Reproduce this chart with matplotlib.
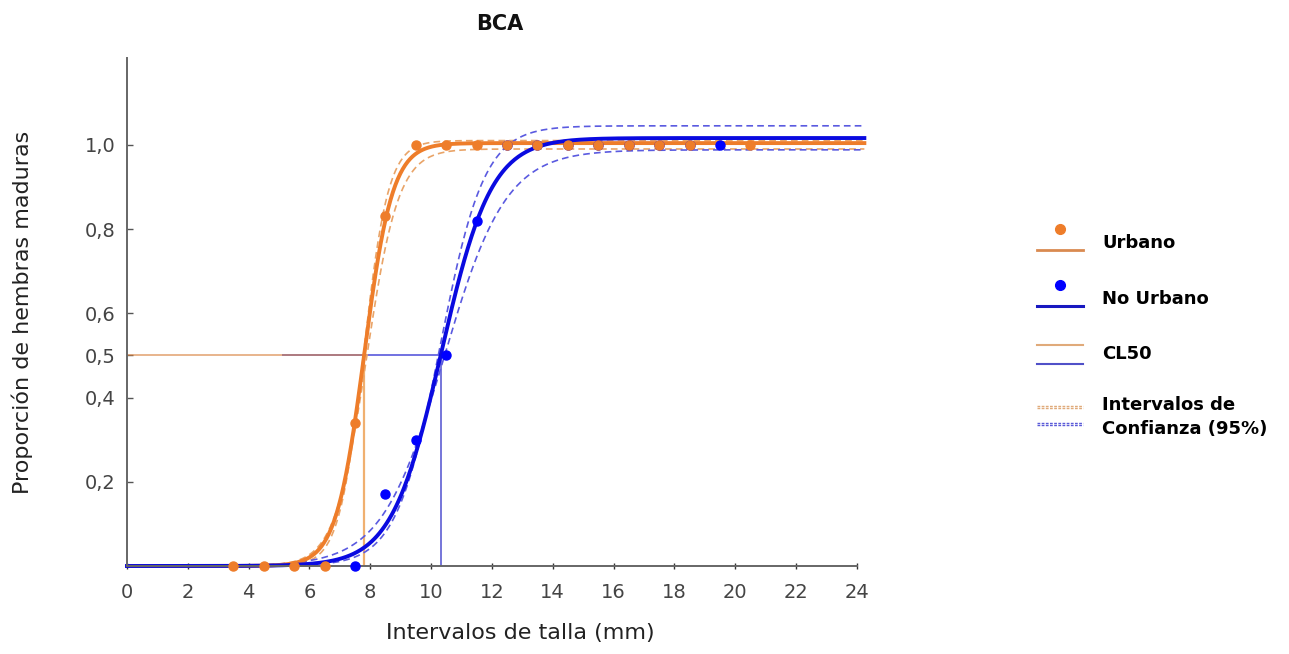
import numpy as np
import matplotlib
matplotlib.use("Agg")
import matplotlib.pyplot as plt
from matplotlib.legend_handler import HandlerBase
from matplotlib.lines import Line2D

# observed proportion of mature females per size class (mm)
urb_x = [3.5, 4.5, 5.5, 6.5, 7.5, 8.5, 9.5, 10.5, 11.5, 12.5, 13.5, 14.5, 15.5, 16.5, 17.5, 18.5, 20.5]
urb_p = [0.0, 0.0, 0.0, 0.0, 0.34, 0.83, 1.0, 1.0, 1.0, 1.0, 1.0, 1.0, 1.0, 1.0, 1.0, 1.0, 1.0]
nourb_x = [7.5, 8.5, 9.5, 10.5, 11.5, 12.5, 13.5, 14.5, 15.5, 16.5, 17.5, 18.5, 19.5]
nourb_p = [0.0, 0.17, 0.30, 0.50, 0.82, 1.0, 1.0, 1.0, 1.0, 1.0, 1.0, 1.0, 1.0]

# logistic fits: (asymptote, slope, CL50)
urb_fit = (1.004, 2.15, 7.80)
urb_ci_hi = (1.010, 2.45, 7.78)
urb_ci_lo = (0.990, 1.90, 7.88)
nourb_fit = (1.016, 1.22, 10.34)
nourb_ci_hi = (1.045, 1.38, 10.30)
nourb_ci_lo = (0.988, 0.98, 10.42)
nourb_cl50_start = 5.1

x_ticks = list(range(0, 25, 2))
y_ticks = [0.2, 0.4, 0.5, 0.6, 0.8, 1.0]
y_labels = ["0,2", "0,4", "0,5", "0,6", "0,8", "1,0"]

ORANGE = "#ee7d2a"
BLUE = "#0a0ae0"


def logistic(x, params):
    a, k, x50 = params
    return a / (1 + np.exp(-k * (x - x50)))


class Glyph:
    def __init__(self, parts):
        self.parts = parts


class GlyphHandler(HandlerBase):
    def create_artists(self, legend, orig_handle, xdescent, ydescent, width, height, fontsize, trans):
        arts = []
        x0, x1 = -xdescent, -xdescent + width
        for kind, color, yf, lw, ls in orig_handle.parts:
            y = -ydescent + yf * height
            if kind == "dot":
                a = Line2D([(x0 + x1) / 2], [y], marker="o", ms=7, color=color, ls="none")
            else:
                a = Line2D([x0, x1], [y, y], color=color, lw=lw, ls=ls)
            a.set_transform(trans)
            arts.append(a)
        return arts


plt.rcParams["font.family"] = ["DejaVu Sans"]

fig = plt.figure(figsize=(12.89, 6.54), dpi=100)
ax = fig.add_axes([127 / 1289, 88 / 654, 748 / 1289, 508 / 654])

xs = np.linspace(0, 24.25, 600)

# CL50 reference lines
ax.hlines(0.5, nourb_cl50_start, nourb_fit[2], color="#4a4ad8", lw=1.1)
ax.vlines(nourb_fit[2], 0, 0.5, color="#5050d0", lw=1.1)
ax.hlines(0.5, 0, urb_fit[2], color="#d9823f", lw=1.4, alpha=0.6)
ax.vlines(urb_fit[2], 0, 0.5, color="#f0b070", lw=1.6)

# confidence intervals
for p in (urb_ci_hi, urb_ci_lo):
    ax.plot(xs, logistic(xs, p), color="#e9a468", lw=1.2, ls=(0, (4, 2.5)), clip_on=False)
for p in (nourb_ci_hi, nourb_ci_lo):
    ax.plot(xs, logistic(xs, p), color="#5a5ae0", lw=1.2, ls=(0, (4, 2.5)), clip_on=False)

# fitted curves
ax.plot(xs, logistic(xs, urb_fit), color=ORANGE, lw=2.8, clip_on=False)
ax.plot(xs, logistic(xs, nourb_fit), color=BLUE, lw=2.8, clip_on=False)

# observed points
ax.plot(nourb_x, nourb_p, "o", color="#0000ff", ms=6.5, clip_on=False, zorder=4)
ax.plot(urb_x, urb_p, "o", color=ORANGE, ms=6.5, clip_on=False, zorder=5)

ax.set_xlim(0, 24.6)
ax.set_ylim(0, 1.206)
ax.set_xticks(x_ticks)
ax.set_yticks(y_ticks)
ax.set_yticklabels(y_labels)

for s in ("top", "right"):
    ax.spines[s].set_visible(False)
for s in ("left", "bottom"):
    ax.spines[s].set_color("#666666")
    ax.spines[s].set_linewidth(1.4)
ax.spines["bottom"].set_bounds(0, 24)

ax.tick_params(axis="y", direction="in", length=4, width=1, colors="#555555",
               labelsize=14, labelcolor="#444444", pad=8)
ax.tick_params(axis="x", direction="inout", length=4, width=1, colors="#333333",
               labelsize=14, labelcolor="#444444", pad=10)

ax.set_xlabel("Intervalos de talla (mm)", fontsize=16, color="#222222")
ax.xaxis.set_label_coords((520 - 127) / 748, -0.112)
ax.set_ylabel("Proporción de hembras maduras", fontsize=16, color="#222222")
ax.yaxis.set_label_coords(-0.125, 0.5)

fig.text(500 / 1289, 1 - 30 / 654, "BCA", ha="center", va="baseline",
         fontsize=15, fontweight="bold", color="#111111")

dots = (0, (2, 1))
handles = [
    Glyph([("dot", ORANGE, 0.97, 0, "-"), ("line", "#d98a50", 0.2, 2, "-")]),
    Glyph([("dot", "#0000ff", 0.97, 0, "-"), ("line", "#1818c0", 0.2, 2.2, "-")]),
    Glyph([("line", "#e0aa7a", 0.83, 1.5, "-"), ("line", "#5050c8", 0.13, 1.5, "-")]),
    Glyph([("line", "#e0aa7a", 0.95, 1, dots), ("line", "#e0aa7a", 0.87, 1, dots),
           ("line", "#5a5ad8", 0.33, 1, dots), ("line", "#5a5ad8", 0.25, 1, dots)]),
]
labels = ["Urbano", "No Urbano", "CL50", "Intervalos de\nConfianza (95%)"]
leg = fig.legend(handles, labels, handler_map={Glyph: GlyphHandler()},
                 loc="upper left", bbox_to_anchor=(1037 / 1289, 1 - 228 / 654),
                 frameon=False, borderpad=0, borderaxespad=0,
                 handlelength=2.55, handleheight=2.0, handletextpad=1.05, labelspacing=1.55,
                 prop={"size": 13, "weight": "bold"})
for t in leg.get_texts():
    t.set_linespacing(1.45)

fig.savefig("out.png", dpi=100)
